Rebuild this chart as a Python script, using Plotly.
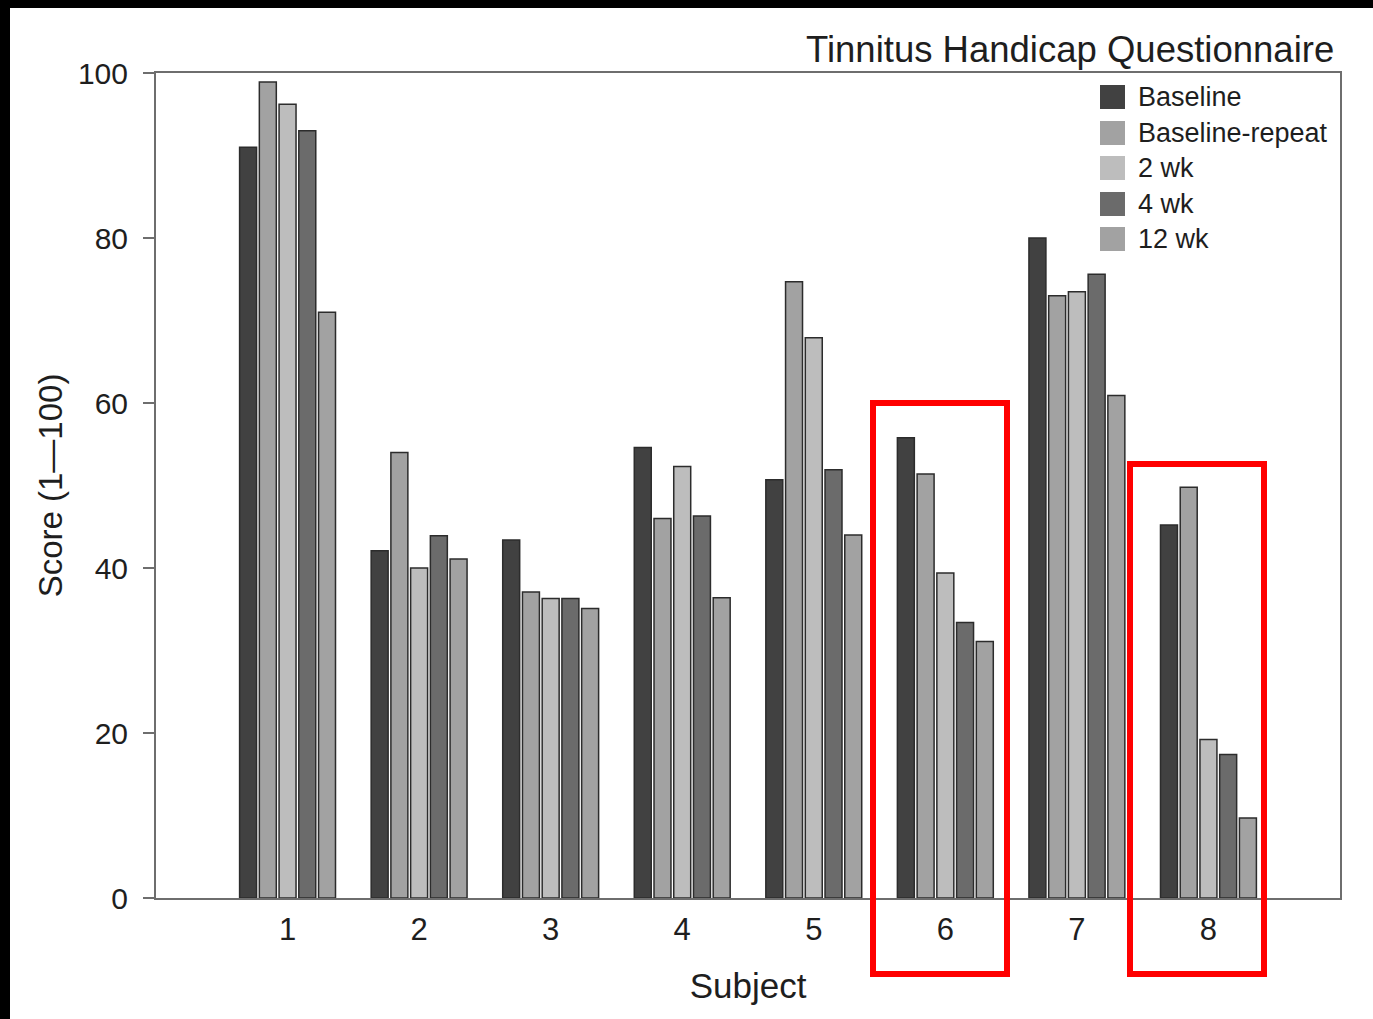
import plotly.graph_objects as go

# Tinnitus Handicap Questionnaire scores per subject and visit
subjects = [1, 2, 3, 4, 5, 6, 7, 8]
series_names = ["Baseline", "Baseline-repeat", "2 wk", "4 wk", "12 wk"]
baseline = [91.0, 42.1, 43.4, 54.6, 50.7, 55.8, 80.0, 45.2]
baseline_repeat = [98.9, 54.0, 37.1, 46.0, 74.7, 51.4, 73.0, 49.8]
wk2 = [96.2, 40.0, 36.3, 52.3, 67.9, 39.4, 73.5, 19.2]
wk4 = [93.0, 43.9, 36.3, 46.3, 51.9, 33.4, 75.6, 17.4]
wk12 = [71.0, 41.1, 35.1, 36.4, 44.0, 31.1, 60.9, 9.7]
y_ticks = [0, 20, 40, 60, 80, 100]

series_values = [baseline, baseline_repeat, wk2, wk4, wk12]
colors = ["#414141", "#a2a2a2", "#bdbdbd", "#6b6b6b", "#a2a2a2"]

W, H = 1373, 1019
L, R, T, B = 156, 1340, 73, 898  # plot area in pixels


def px(x):
    return (x - L) / (R - L)


def py(y):
    return (B - y) / (B - T)


FONT = "Liberation Sans, Arial, sans-serif"
TXT = "#1e1e1e"
AX = "#6e6e6e"

fig = go.Figure()
for name, vals, col in zip(series_names, series_values, colors):
    fig.add_trace(go.Bar(
        x=subjects, y=vals, name=name, showlegend=False,
        marker=dict(color=col, line=dict(color="#2c2c2c", width=1.5)),
    ))

shapes = []
annotations = []

# legend drawn as square swatches with labels
leg_y = [97, 133, 168, 204, 239]
for name, col, yc in zip(series_names, colors, leg_y):
    shapes.append(dict(type="rect", xref="paper", yref="paper",
                       x0=px(1100), x1=px(1125), y0=py(yc + 12), y1=py(yc - 12),
                       fillcolor=col, line=dict(width=0)))
    annotations.append(dict(text=name, xref="paper", yref="paper",
                            x=px(1136), y=py(yc), xanchor="left", yanchor="middle",
                            showarrow=False, font=dict(family=FONT, size=27, color=TXT)))

# chart title at top right
annotations.append(dict(text="Tinnitus Handicap Questionnaire", xref="paper", yref="paper",
                        x=px(1336), y=py(49), xanchor="right", yanchor="middle",
                        showarrow=False, font=dict(family=FONT, size=36.5, color=TXT)))

# highlight boxes around subjects 6 and 8
for x0, x1, y0, y1 in [(873, 1007, 403, 974), (1130, 1264, 464, 974)]:
    shapes.append(dict(type="rect", xref="paper", yref="paper",
                       x0=px(x0), x1=px(x1), y0=py(y1), y1=py(y0),
                       line=dict(color="#ff0000", width=6), fillcolor="rgba(0,0,0,0)"))

# black frame strips at top and left edges
shapes.append(dict(type="rect", xref="paper", yref="paper",
                   x0=px(0), x1=px(W), y0=py(8), y1=py(0),
                   fillcolor="black", line=dict(width=0)))
shapes.append(dict(type="rect", xref="paper", yref="paper",
                   x0=px(0), x1=px(10), y0=py(H), y1=py(0),
                   fillcolor="black", line=dict(width=0)))

fig.update_layout(
    width=W, height=H,
    margin=dict(l=L, r=W - R, t=T, b=H - B, pad=0),
    paper_bgcolor="white", plot_bgcolor="white",
    barmode="group", bargap=0.25, bargroupgap=0.14,
    font=dict(family=FONT, color=TXT),
    shapes=shapes, annotations=annotations,
    xaxis=dict(
        range=[0, 9], tickmode="array", tickvals=subjects,
        ticktext=[str(s) for s in subjects],
        showgrid=False, zeroline=False,
        showline=True, linecolor=AX, linewidth=2, mirror=True,
        ticks="", tickfont=dict(size=31, color=TXT), ticklabelstandoff=3,
        title=dict(text="Subject", font=dict(size=35, color=TXT), standoff=27),
    ),
    yaxis=dict(
        range=[0, 100], tickmode="array", tickvals=y_ticks,
        showgrid=False, zeroline=False,
        showline=True, linecolor=AX, linewidth=2, mirror=True,
        ticks="outside", ticklen=11, tickwidth=2, tickcolor=AX,
        tickfont=dict(size=30, color=TXT), ticklabelstandoff=9,
        title=dict(text="Score (1\u2014100)", font=dict(size=33, color=TXT), standoff=5),
    ),
)

fig.write_html("out.html")
